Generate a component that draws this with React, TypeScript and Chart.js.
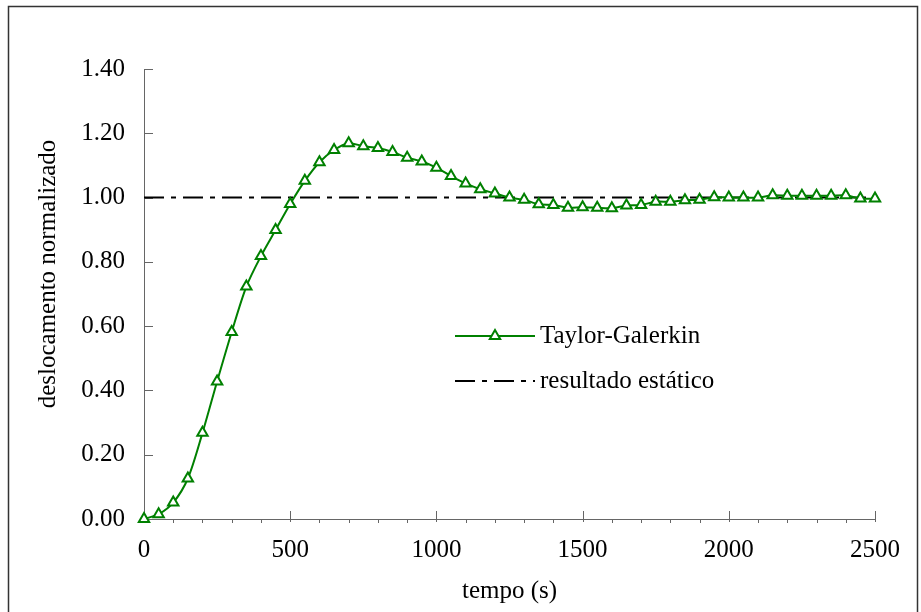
import React, { useEffect, useRef } from "react";
import { Chart, registerables } from "chart.js";

Chart.register(...registerables);

// ---- data ----
const TEMPO = [
  0, 50, 100, 150, 200, 250, 300, 350, 400, 450, 500, 550, 600, 650, 700, 750, 800, 850, 900, 950,
  1000, 1050, 1100, 1150, 1200, 1250, 1300, 1350, 1400, 1450, 1500, 1550, 1600, 1650, 1700, 1750,
  1800, 1850, 1900, 1950, 2000, 2050, 2100, 2150, 2200, 2250, 2300, 2350, 2400, 2450, 2500,
];
const TAYLOR_GALERKIN = [
  0.0, 0.015, 0.051, 0.126, 0.268, 0.428, 0.582, 0.723, 0.818, 0.899, 0.98, 1.052, 1.11, 1.148,
  1.169, 1.16, 1.154, 1.142, 1.124, 1.112, 1.093, 1.067, 1.044, 1.026, 1.013, 1.0, 0.993, 0.979,
  0.977, 0.968, 0.97, 0.968, 0.967, 0.975, 0.977, 0.987, 0.987, 0.992, 0.993, 1.001, 1.0, 1.0, 1.0,
  1.007, 1.006, 1.006, 1.006, 1.006, 1.007, 0.997, 0.997,
];
const ESTATICO_X = [0, 2500];
const ESTATICO_Y = [1.0, 1.0];
const SERIES_LABELS = ["Taylor-Galerkin", "resultado estático"];

const X_TICKS = [0, 500, 1000, 1500, 2000, 2500];
const X_MINOR_TICKS = [
  100, 200, 300, 400, 600, 700, 800, 900, 1100, 1200, 1300, 1400, 1600, 1700, 1800, 1900, 2100,
  2200, 2300, 2400,
];
const Y_TICKS = [0, 0.2, 0.4, 0.6, 0.8, 1.0, 1.2, 1.4];
const X_TITLE = "tempo (s)";
const Y_TITLE = "deslocamento normalizado";

const FONT_FAMILY = "'Liberation Serif', 'Times New Roman', serif";
const FONT_SIZE = 25;
const GREEN = "#008000";
const AXIS_COLOR = "#666666";

const framePlugin = {
  id: "frame",
  beforeDraw(chart: any) {
    const { ctx, width, height } = chart;
    ctx.save();
    ctx.fillStyle = "#ffffff";
    ctx.fillRect(0, 0, width, height);
    ctx.strokeStyle = "#333333";
    ctx.lineWidth = 1.5;
    ctx.strokeRect(8.5, 6.5, 909, height + 20);
    ctx.restore();
  },
};

const tickMarksPlugin = {
  id: "tickMarks",
  beforeDatasetsDraw(chart: any) {
    const { ctx, scales } = chart;
    const xs = scales.x;
    const ys = scales.y;
    const axisY = ys.getPixelForValue(0);
    const axisX = xs.getPixelForValue(0);
    ctx.save();
    ctx.strokeStyle = AXIS_COLOR;
    ctx.lineWidth = 1;
    ctx.beginPath();
    for (const t of Y_TICKS) {
      const py = Math.round(ys.getPixelForValue(t)) + 0.5;
      ctx.moveTo(axisX, py);
      ctx.lineTo(axisX + 9, py);
    }
    for (const t of X_TICKS) {
      const px = Math.round(xs.getPixelForValue(t)) + 0.5;
      ctx.moveTo(px, axisY - 8);
      ctx.lineTo(px, axisY + 3);
    }
    for (const t of X_MINOR_TICKS) {
      const px = Math.round(xs.getPixelForValue(t)) + 0.5;
      ctx.moveTo(px, axisY);
      ctx.lineTo(px, axisY + 4);
    }
    ctx.stroke();
    ctx.restore();
  },
};

const yTitlePlugin = {
  id: "yTitle",
  afterDraw(chart: any) {
    const { ctx } = chart;
    ctx.save();
    ctx.translate(48, 274);
    ctx.rotate(-Math.PI / 2);
    ctx.font = `${FONT_SIZE}px ${FONT_FAMILY}`;
    ctx.fillStyle = "#000000";
    ctx.textAlign = "center";
    ctx.textBaseline = "middle";
    ctx.fillText(Y_TITLE, 0, 0);
    ctx.restore();
  },
};

const legendPlugin = {
  id: "innerLegend",
  afterDraw(chart: any) {
    const { ctx } = chart;
    const lx0 = 455;
    const lx1 = 535;
    const tx = 540;
    const rows = [336, 381];
    ctx.save();
    chart.data.datasets.forEach((ds: any, i: number) => {
      const y = rows[i];
      ctx.save();
      ctx.strokeStyle = ds.borderColor;
      ctx.lineWidth = ds.borderWidth;
      ctx.setLineDash(ds.borderDash || []);
      ctx.beginPath();
      ctx.moveTo(lx0, y);
      ctx.lineTo(lx1, y);
      ctx.stroke();
      ctx.restore();
      if (ds.pointRadius > 0) {
        ctx.save();
        ctx.strokeStyle = ds.pointBorderColor;
        ctx.fillStyle = ds.pointBackgroundColor;
        ctx.lineWidth = ds.pointBorderWidth;
        const r = ds.pointRadius;
        const cx = (lx0 + lx1) / 2;
        ctx.beginPath();
        ctx.moveTo(cx, y - r);
        ctx.lineTo(cx + r * Math.sin((2 * Math.PI) / 3), y - r * Math.cos((2 * Math.PI) / 3));
        ctx.lineTo(cx + r * Math.sin((4 * Math.PI) / 3), y - r * Math.cos((4 * Math.PI) / 3));
        ctx.closePath();
        ctx.fill();
        ctx.stroke();
        ctx.restore();
      }
      ctx.font = `${FONT_SIZE}px ${FONT_FAMILY}`;
      ctx.fillStyle = "#000000";
      ctx.textAlign = "left";
      ctx.textBaseline = "middle";
      ctx.fillText(ds.label, tx, y);
    });
    ctx.restore();
  },
};

export default function App() {
  const canvasRef = useRef<HTMLCanvasElement | null>(null);

  useEffect(() => {
    document.body.style.margin = "0";
    const canvas = canvasRef.current;
    if (!canvas) return;

    const tgData = TEMPO.map((t, i) => ({ x: t, y: TAYLOR_GALERKIN[i] }));
    const stData = ESTATICO_X.map((t, i) => ({ x: t, y: ESTATICO_Y[i] }));

    const chart = new Chart(canvas, {
      type: "line",
      data: {
        datasets: [
          {
            label: SERIES_LABELS[0],
            data: tgData,
            borderColor: GREEN,
            borderWidth: 2,
            tension: 0.3,
            pointStyle: "triangle",
            pointRadius: 6,
            pointBorderWidth: 2,
            pointBorderColor: GREEN,
            pointBackgroundColor: "#ffffff",
            clip: false,
          } as any,
          {
            label: SERIES_LABELS[1],
            data: stData,
            borderColor: "#000000",
            borderWidth: 2,
            borderDash: [20, 7, 5, 7],
            pointRadius: 0,
            tension: 0,
            clip: false,
          } as any,
        ],
      },
      options: {
        animation: false,
        responsive: false,
        devicePixelRatio: 1,
        layout: { padding: { left: 0, right: 46, top: 69, bottom: 0 } },
        plugins: {
          legend: { display: false },
          tooltip: { enabled: false },
        },
        scales: {
          x: {
            type: "linear",
            min: 0,
            max: 2500,
            afterFit: (s: any) => {
              s.height = 93;
            },
            afterBuildTicks: (s: any) => {
              s.ticks = X_TICKS.map((v) => ({ value: v }));
            },
            grid: { display: true, drawOnChartArea: false, drawTicks: false },
            border: { display: true, color: AXIS_COLOR, width: 1 },
            ticks: {
              padding: 16,
              color: "#000000",
              font: { family: FONT_FAMILY, size: FONT_SIZE },
              maxRotation: 0,
              callback: (v: any) => String(v),
            },
            title: {
              display: true,
              text: X_TITLE,
              color: "#000000",
              font: { family: FONT_FAMILY, size: FONT_SIZE },
              padding: { top: 0, bottom: 6 },
            },
          },
          y: {
            type: "linear",
            min: 0,
            max: 1.4,
            afterFit: (s: any) => {
              s.width = 144;
            },
            afterBuildTicks: (s: any) => {
              s.ticks = Y_TICKS.map((v) => ({ value: v }));
            },
            grid: { display: true, drawOnChartArea: false, drawTicks: false },
            border: { display: true, color: AXIS_COLOR, width: 1 },
            ticks: {
              padding: 19,
              color: "#000000",
              font: { family: FONT_FAMILY, size: FONT_SIZE },
              callback: (v: any) => Number(v).toFixed(2),
            },
            title: { display: false },
          },
        },
      },
      plugins: [framePlugin, tickMarksPlugin, yTitlePlugin, legendPlugin],
    });

    return () => {
      chart.destroy();
    };
  }, []);

  return (
    <div style={{ position: "absolute", left: 0, top: 0, width: 921, height: 612 }}>
      <canvas ref={canvasRef} width={921} height={612} style={{ display: "block" }} />
    </div>
  );
}
